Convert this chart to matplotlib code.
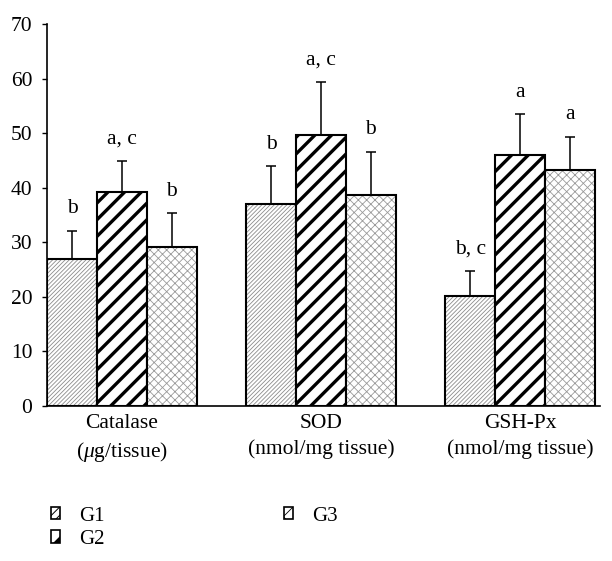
import matplotlib.pyplot as plt
import numpy as np

plt.rcParams['font.family'] = ['Liberation Serif', 'DejaVu Serif']
plt.rcParams['mathtext.fontset'] = 'custom'
plt.rcParams['mathtext.rm'] = 'Liberation Serif'
plt.rcParams['mathtext.it'] = 'Liberation Serif:italic'

# enzyme groups on the x axis
categories = ['Catalase\n($\\mathit{\\mu}$g/tissue)', 'SOD\n(nmol/mg tissue)', 'GSH-Px\n(nmol/mg tissue)']
groups = ['G1', 'G2', 'G3']
# bar heights per group
G1_vals = [27.0, 37.0, 20.2]
G2_vals = [39.2, 49.7, 46.0]
G3_vals = [29.1, 38.7, 43.2]
# upper error (SD)
G1_err = [5.1, 6.9, 4.6]
G2_err = [5.6, 9.7, 7.5]
G3_err = [6.2, 7.9, 6.1]
# significance letters
G1_lab = ['b', 'b', 'b, c']
G2_lab = ['a, c', 'a, c', 'a']
G3_lab = ['b', 'b', 'a']

vals = [G1_vals, G2_vals, G3_vals]
errs = [G1_err, G2_err, G3_err]
labs = [G1_lab, G2_lab, G3_lab]
hatches = ['////////', '//', 'xxxx']
leg_hatches = ['////', '/', 'x']
hatch_cols = ['#8c8c8c', 'black', '#9a9a9a']
hatch_lws = [0.6, 2.4, 0.6]
leg_lws = [0.7, 4.0, 0.6]

fig = plt.figure(figsize=(6.12, 5.61), dpi=100)
ax = fig.add_axes([0.0768, 0.2763, 0.903, 0.681])

x = np.arange(len(categories))
width = 0.25
handles = []
for i in range(3):
    pos = x + (i - 1) * width
    bars = ax.bar(pos, vals[i], width, color='white', edgecolor=hatch_cols[i],
                  hatch=hatches[i], linewidth=0)
    for b in bars:
        if hasattr(b, 'set_hatch_linewidth'):
            b.set_hatch_linewidth(hatch_lws[i])
    ax.bar(pos, vals[i], width, color='none', edgecolor='black', linewidth=1.5)
    ax.errorbar(pos, vals[i], yerr=[np.zeros(3), errs[i]], fmt='none',
                ecolor='black', elinewidth=1.1, capsize=3.5, capthick=1.1)
    for p, v, e, t in zip(pos, vals[i], errs[i], labs[i]):
        ax.text(p, v + e + 3.2, t, ha='center', va='baseline', fontsize=15.5)
    h = plt.Rectangle((0, 0), 1, 1, facecolor='white', edgecolor='black',
                      hatch=leg_hatches[i], linewidth=1.2)
    handles.append(h)

ax.set_xlim(-0.377, 2.4)
ax.set_ylim(0, 70)
ax.set_yticks(np.arange(0, 71, 10))
ax.set_xticks(x)
ax.set_xticklabels(categories, fontsize=15.5, linespacing=1.4)
ax.tick_params(axis='x', length=0, pad=6)
ax.tick_params(axis='y', labelsize=15.5, length=3.5, width=1, direction='out', pad=7)
for s in ['top', 'right']:
    ax.spines[s].set_visible(False)
ax.spines['left'].set_linewidth(1.2)
ax.spines['bottom'].set_linewidth(1.2)

leg = fig.legend(handles, groups, ncol=2, loc='upper left', bbox_to_anchor=(0.083, 0.097),
                 frameon=False, fontsize=15, handlelength=0.45, handleheight=0.55,
                 handletextpad=0.9, columnspacing=8.6, labelspacing=0.2, borderpad=0,
                 borderaxespad=0)
for p, lw in zip(leg.get_patches(), leg_lws):
    if hasattr(p, 'set_hatch_linewidth'):
        p.set_hatch_linewidth(lw)

fig.savefig('out.png', dpi=100)
